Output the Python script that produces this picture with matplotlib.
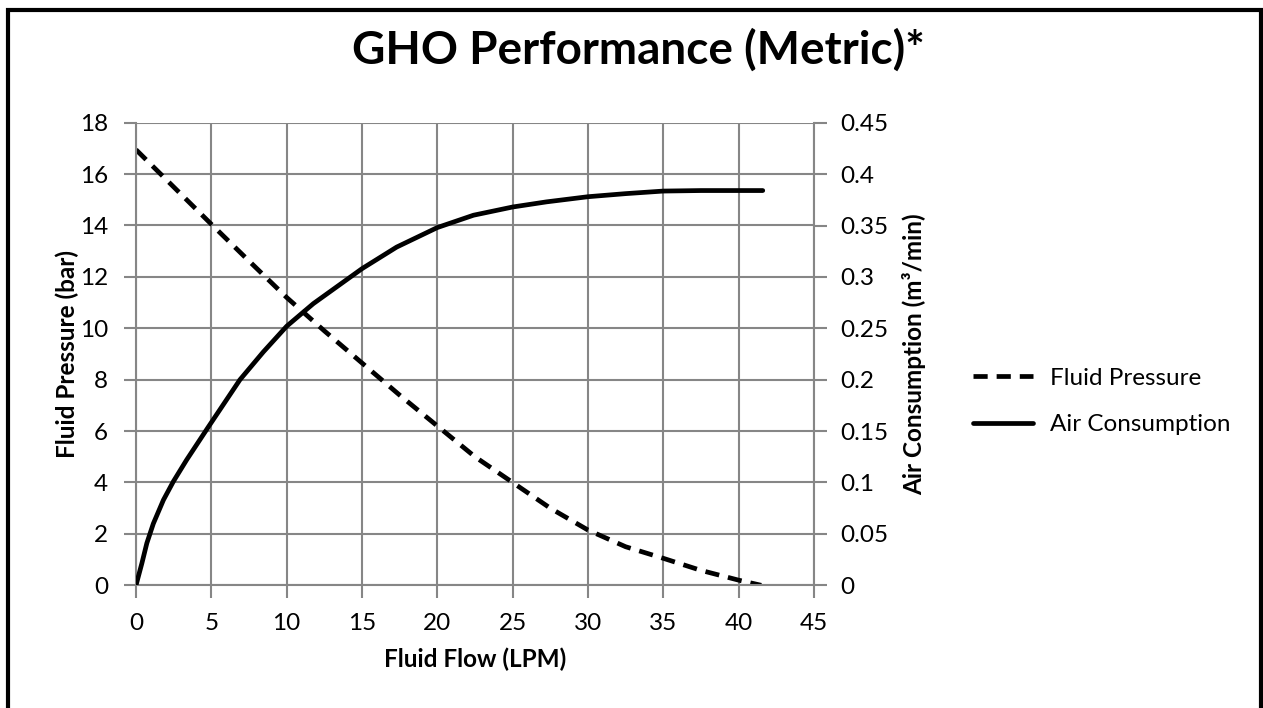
import matplotlib
matplotlib.use("Agg")
import matplotlib.pyplot as plt
from matplotlib.patches import Rectangle

plt.rcParams['font.family'] = ['Lato', 'DejaVu Sans']

# values
pressure_flow = [0, 2.5, 5, 7.5, 10, 12.5, 15, 17.5, 20, 22.5, 25, 27.5, 30, 32.5, 35, 37.5, 40, 41.5]
pressure_bar = [16.95, 15.5, 14.05, 12.62, 11.2, 9.9, 8.65, 7.4, 6.2, 5.0, 4.0, 3.0, 2.15, 1.5, 1.05, 0.58, 0.2, 0.0]

air_flow = [0, 0.39, 0.72, 1.15, 1.82, 2.48, 3.36, 4.8, 6.9, 8.45, 10, 11.77, 15, 17.3, 20, 22.4,
            25, 27.25, 30, 32.5, 35, 37.5, 40, 41.6]
air_m3 = [0, 0.0214, 0.041, 0.060, 0.083, 0.101, 0.122, 0.154, 0.2, 0.227, 0.252, 0.274, 0.308,
          0.329, 0.348, 0.360, 0.368, 0.373, 0.378, 0.381, 0.3835, 0.384, 0.384, 0.384]

x_ticks = list(range(0, 50, 5))
left_ticks = list(range(0, 20, 2))
right_ticks = [0, 0.05, 0.1, 0.15, 0.2, 0.25, 0.3, 0.35, 0.4, 0.45]
right_labels = ['0', '0.05', '0.1', '0.15', '0.2', '0.25', '0.3', '0.35', '0.4', '0.45']

grid_col = '#868686'
fs = 17.5

fig = plt.figure(figsize=(12.63, 7.08), dpi=100)
ax = fig.add_axes([136/1263, 1-585.3/708, (814-136)/1263, (585.3-122.7)/708])
ax2 = ax.twinx()

ax.set_xlim(0, 45)
ax.set_ylim(0, 18)
ax2.set_ylim(0, 0.45)
ax.set_xticks(x_ticks)
ax.set_yticks(left_ticks)
ax2.set_yticks(right_ticks)
ax2.set_yticklabels(right_labels)

ax.grid(True, color=grid_col, linewidth=1.5)
ax.set_axisbelow(True)
for a in (ax, ax2):
    for s in a.spines.values():
        s.set_visible(False)
    a.tick_params(axis='both', length=9, width=1.5, color=grid_col, labelsize=fs)
ax.tick_params(axis='y', pad=11)
ax.tick_params(axis='x', pad=11)
ax2.tick_params(axis='y', pad=10)
for a, side in ((ax, 'left'), (ax, 'bottom'), (ax2, 'right')):
    a.spines[side].set_visible(True)
    a.spines[side].set_color(grid_col)
    a.spines[side].set_linewidth(1.5)

l1, = ax.plot(pressure_flow, pressure_bar, color='black', linewidth=3.4,
              linestyle=(0, (3.0, 1.9)), label='Fluid Pressure')
l2, = ax2.plot(air_flow, air_m3, color='black', linewidth=3.4,
               solid_capstyle='round', solid_joinstyle='round', label='Air Consumption')

ax.set_xlabel('Fluid Flow (LPM)', fontsize=fs, fontweight='bold', labelpad=10)
ax.set_ylabel('Fluid Pressure (bar)', fontsize=fs, fontweight='bold', labelpad=1)
ax2.set_ylabel('Air Consumption (m³/min)', fontsize=fs, fontweight='bold', labelpad=10)

fig.text(638/1263, 1-64/708, 'GHO Performance (Metric)*', fontsize=33, fontweight='bold',
         ha='center', va='baseline')

fig.legend(handles=[l1, l2], loc='center left', bbox_to_anchor=(951/1263, 1-401.5/708),
           frameon=False, fontsize=fs, handlelength=2.47, handletextpad=0.7, labelspacing=1.04)

fig.patches.append(Rectangle((8/1263, -0.05), 1253/1263, 1.05-10/708, transform=fig.transFigure,
                             fill=False, edgecolor='black', linewidth=3))

fig.savefig('out.png', dpi=100)
